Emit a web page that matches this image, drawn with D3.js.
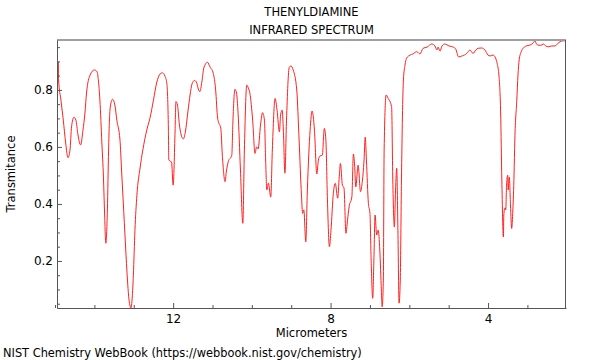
<!DOCTYPE html>
<html>
<head>
<meta charset="utf-8">
<script src="https://cdn.jsdelivr.net/npm/d3@7"></script>
<style>
  body { margin: 0; background: #fff; }
  svg text { font-family: "DejaVu Sans", sans-serif; fill: #000; }
</style>
</head>
<body>
<svg id="chart" width="600" height="360"></svg>
<script>
// spectrum (micrometers, transmittance)
const wavelength = [
  14.95, 14.94, 14.92, 14.91, 14.85, 14.79, 14.73, 14.67, 14.62, 14.58,
  14.52, 14.47, 14.42, 14.35, 14.29, 14.24, 14.20, 14.11, 14.00, 13.93,
  13.90, 13.86, 13.81, 13.77, 13.74, 13.71, 13.67, 13.64, 13.60, 13.54,
  13.48, 13.43, 13.35, 13.31, 13.27, 13.21, 13.16, 13.12, 13.07, 13.04,
  13.01, 12.97, 12.92, 12.84, 12.77, 12.67, 12.59, 12.50, 12.42, 12.33,
  12.27, 12.21, 12.16, 12.12, 12.11, 12.04, 12.00, 11.95, 11.93, 11.89,
  11.84, 11.78, 11.74, 11.69, 11.62, 11.57, 11.52, 11.46, 11.41, 11.36,
  11.32, 11.27, 11.22, 11.13, 11.06, 10.98, 10.92, 10.87, 10.85, 10.79,
  10.75, 10.68, 10.65, 10.60, 10.51, 10.48, 10.43, 10.39, 10.35, 10.29,
  10.23, 10.19, 10.13, 10.09, 10.05, 9.98, 9.92, 9.88, 9.84, 9.78,
  9.73, 9.68, 9.65, 9.62, 9.58, 9.52, 9.48, 9.41, 9.36, 9.30,
  9.27, 9.23, 9.20, 9.16, 9.12, 9.05, 9.01, 8.95, 8.86, 8.80,
  8.74, 8.71, 8.68, 8.63, 8.59, 8.52, 8.47, 8.41, 8.35, 8.31,
  8.27, 8.21, 8.16, 8.12, 8.08, 8.03, 7.99, 7.93, 7.88, 7.82,
  7.78, 7.75, 7.70, 7.66, 7.61, 7.57, 7.53, 7.46, 7.42, 7.39,
  7.36, 7.30, 7.24, 7.20, 7.15, 7.12, 7.09, 7.04, 7.00, 6.97,
  6.93, 6.90, 6.87, 6.83, 6.79, 6.75, 6.71, 6.69, 6.66, 6.64,
  6.59, 6.54, 6.45, 6.42, 6.38, 6.35, 6.32, 6.29, 6.26, 6.23,
  6.20, 6.15, 6.11, 6.07, 5.98, 5.91, 5.81, 5.73, 5.65, 5.55,
  5.43, 5.35, 5.30, 5.27, 5.22, 5.17, 5.10, 4.99, 4.88, 4.82,
  4.75, 4.66, 4.54, 4.46, 4.38, 4.31, 4.25, 4.16, 4.08, 4.00,
  3.95, 3.87, 3.81, 3.77, 3.72, 3.68, 3.65, 3.61, 3.60, 3.57,
  3.55, 3.53, 3.50, 3.49, 3.46, 3.43, 3.40, 3.37, 3.34, 3.32,
  3.27, 3.24, 3.21, 3.16, 3.11, 3.03, 2.94, 2.86, 2.81, 2.77,
  2.73, 2.66, 2.60, 2.53, 2.47, 2.38, 2.30, 2.22, 2.17, 2.10,
  2.05
];
const transmittance = [
  0.905, 0.807, 0.898, 0.835, 0.764, 0.694, 0.614, 0.562, 0.589, 0.671,
  0.704, 0.694, 0.645, 0.607, 0.659, 0.719, 0.789, 0.852, 0.870, 0.863,
  0.835, 0.764, 0.614, 0.494, 0.361, 0.262, 0.379, 0.589, 0.736, 0.767,
  0.747, 0.694, 0.624, 0.519, 0.414, 0.256, 0.133, 0.063, 0.035, 0.070,
  0.150, 0.308, 0.431, 0.526, 0.589, 0.659, 0.700, 0.764, 0.824, 0.856,
  0.860, 0.849, 0.823, 0.659, 0.554, 0.547, 0.466, 0.659, 0.759, 0.747,
  0.677, 0.635, 0.628, 0.652, 0.729, 0.782, 0.821, 0.833, 0.828, 0.803,
  0.794, 0.828, 0.877, 0.897, 0.880, 0.858, 0.800, 0.701, 0.688, 0.666,
  0.571, 0.478, 0.512, 0.548, 0.571, 0.694, 0.802, 0.789, 0.718, 0.519,
  0.332, 0.589, 0.817, 0.807, 0.788, 0.694, 0.577, 0.600, 0.593, 0.677,
  0.720, 0.694, 0.554, 0.449, 0.473, 0.424, 0.589, 0.770, 0.729, 0.653,
  0.712, 0.729, 0.659, 0.508, 0.694, 0.879, 0.884, 0.870, 0.800, 0.624,
  0.431, 0.367, 0.379, 0.267, 0.449, 0.659, 0.726, 0.659, 0.505, 0.554,
  0.568, 0.571, 0.665, 0.624, 0.414, 0.250, 0.308, 0.437, 0.472, 0.420,
  0.495, 0.542, 0.466, 0.456, 0.297, 0.343, 0.390, 0.425, 0.575, 0.536,
  0.460, 0.536, 0.443, 0.472, 0.554, 0.634, 0.554, 0.402, 0.367, 0.203,
  0.069, 0.203, 0.361, 0.291, 0.308, 0.238, 0.098, 0.039, 0.133, 0.589,
  0.782, 0.771, 0.741, 0.484, 0.319, 0.449, 0.525, 0.308, 0.052, 0.133,
  0.484, 0.835, 0.887, 0.911, 0.922, 0.926, 0.934, 0.926, 0.946, 0.950,
  0.961, 0.954, 0.940, 0.950, 0.936, 0.954, 0.961, 0.954, 0.950, 0.943,
  0.916, 0.919, 0.928, 0.940, 0.928, 0.940, 0.946, 0.947, 0.940, 0.922,
  0.919, 0.922, 0.912, 0.893, 0.845, 0.719, 0.484, 0.284, 0.361, 0.386,
  0.379, 0.466, 0.501, 0.449, 0.494, 0.396, 0.314, 0.379, 0.501, 0.624,
  0.764, 0.852, 0.905, 0.933, 0.946, 0.954, 0.957, 0.964, 0.972, 0.961,
  0.957, 0.956, 0.961, 0.954, 0.951, 0.954, 0.954, 0.964, 0.969, 0.972,
  0.972
];
const xMajorTicks = [12, 8, 4];
const xMinorTicks = [15, 14, 13, 11, 10, 9, 7, 6, 5, 3];
const yMajorTicks = [0.2, 0.4, 0.6, 0.8];
const yMinorTicks = [0.05, 0.1, 0.15, 0.25, 0.3, 0.35, 0.45, 0.5, 0.55, 0.65, 0.7, 0.75, 0.85, 0.9, 0.95];
const titleLines = ["THENYLDIAMINE", "INFRARED SPECTRUM"];

drawSpectrum();

function drawSpectrum () {
  const left = 57, right = 566, top = 40, bottom = 308;
  const svg = d3.select("#chart");

  const x = d3.scaleLinear().domain([14.95, 2.02]).range([left, right]);
  const y = d3.scaleLinear().domain([0.035, 0.975]).range([bottom, top]);

  // title
  svg.append("g").selectAll("text")
    .data(titleLines)
    .enter().append("text")
      .attr("x", (left + right) / 2)
      .attr("y", (d, i) => 16 + i * 18)
      .attr("text-anchor", "middle")
      .attr("font-size", "11.5px")
      .text(d => d);

  const data = wavelength.map((w, i) => ({ w: w, t: transmittance[i] }));

  svg.append("defs").append("clipPath").attr("id", "plot-clip")
    .append("rect")
      .attr("x", left).attr("y", top - 1)
      .attr("width", right - left).attr("height", bottom - top + 1);

  const line = d3.line()
    .x(d => x(d.w))
    .y(d => y(d.t))
    .curve(d3.curveMonotoneX);

  svg.append("path")
    .datum(data)
    .attr("clip-path", "url(#plot-clip)")
    .attr("fill", "none")
    .attr("stroke", "#ff2020")
    .attr("stroke-width", 1)
    .attr("d", line);

  // frame
  svg.append("line")
    .attr("x1", left).attr("x2", right).attr("y1", top).attr("y2", top)
    .attr("stroke", "#a0a0a0").attr("stroke-width", 2);
  svg.append("line")
    .attr("x1", right - 0.5).attr("x2", right - 0.5).attr("y1", top).attr("y2", bottom)
    .attr("stroke", "#555").attr("stroke-width", 1);

  // x axis
  svg.append("g")
    .attr("transform", `translate(0, ${bottom})`)
    .call(d3.axisBottom(x).tickValues(xMajorTicks).tickSizeInner(-5).tickSizeOuter(0).tickPadding(6));
  svg.append("g")
    .attr("transform", `translate(0, ${bottom})`)
    .call(d3.axisBottom(x).tickValues(xMinorTicks).tickSizeInner(-3).tickSizeOuter(0).tickFormat(""))
    .select(".domain").remove();

  // y axis
  svg.append("g")
    .attr("transform", `translate(${left}, 0)`)
    .call(d3.axisLeft(y).tickValues(yMajorTicks).tickSizeInner(-5).tickSizeOuter(0).tickPadding(4).tickFormat(d3.format(".1f")));
  svg.append("g")
    .attr("transform", `translate(${left}, 0)`)
    .call(d3.axisLeft(y).tickValues(yMinorTicks).tickSizeInner(-3).tickSizeOuter(0).tickFormat(""))
    .select(".domain").remove();

  svg.selectAll(".domain, .tick line").attr("stroke", "#555");
  svg.selectAll(".tick text")
    .attr("font-family", "DejaVu Sans, sans-serif")
    .attr("font-size", "12px")
    .attr("fill", "#000");

  // axis titles
  svg.append("text")
    .attr("x", (left + right) / 2)
    .attr("y", 337)
    .attr("text-anchor", "middle")
    .attr("font-size", "11.5px")
    .text("Micrometers");

  svg.append("text")
    .attr("transform", `translate(15, ${(top + bottom) / 2}) rotate(-90)`)
    .attr("text-anchor", "middle")
    .attr("font-size", "11.5px")
    .text("Transmitance");

  svg.append("text")
    .attr("x", 3)
    .attr("y", 357)
    .attr("font-size", "11.4px")
    .text("NIST Chemistry WebBook (https://webbook.nist.gov/chemistry)");
}
</script>
</body>
</html>
